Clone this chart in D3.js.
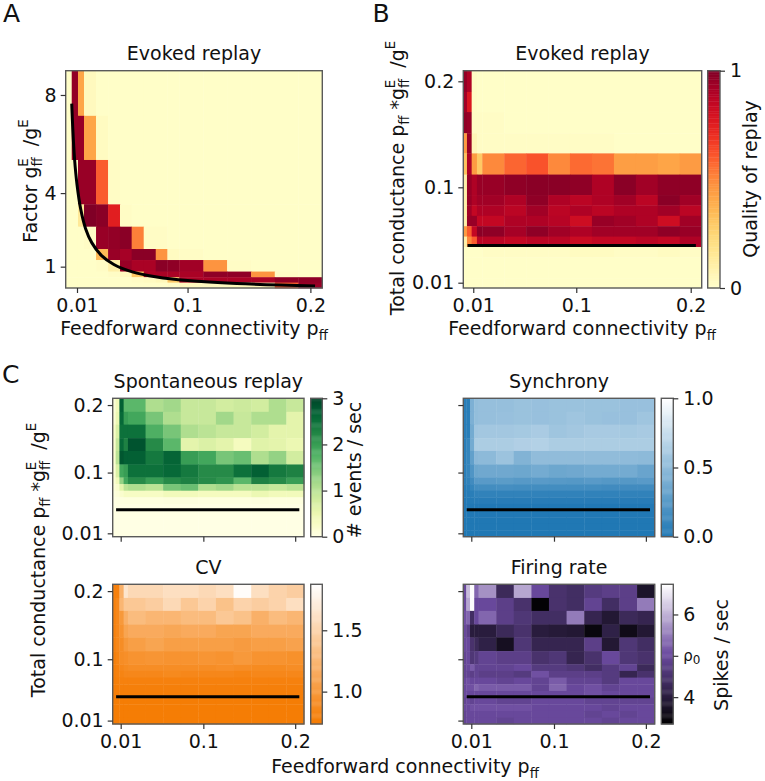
<!DOCTYPE html>
<html><head><meta charset="utf-8">
<script src="https://cdn.jsdelivr.net/npm/d3@7/dist/d3.min.js"></script>
<style>html,body{margin:0;padding:0;background:#fff}svg{display:block}text{font-family:"DejaVu Sans";fill:#111;white-space:pre}</style>
</head><body><svg id="c" width="765" height="781"></svg>
<script>
// ---------- grid edges ----------
const factorP = [.0008,.0057,.0108,.0157,.0255,.0353,.045,.0545,.0643,.0741,.0836,.0933,.1129,.1322,.1517,.171,.1902,.2097];
const factorG = [8.99,7.15,5.35,3.54,2.63,1.72,1.27,.8,.57,.35,.13];
const totalP = [.0013,.0045,.0086,.0132,.0179,.0371,.0562,.0754,.0945,.1137,.1329,.1521,.1712,.1904,.2096];
const totalC = [.21,.19,.171,.151,.132,.112,.0927,.0829,.0731,.0633,.0535,.0437,.0339,.0241,.0143,.005];
// ---------- A ----------
const replayFactor = [
[.01,.96,.42,.04,.01,.01,.01,.01,.01,.01,.01,.01,.01,.01,.01,.01,.01],
[.01,.95,.95,.42,.03,.01,.01,.01,.01,.01,.01,.01,.01,.01,.01,.01,.01],
[.01,.01,.95,.95,.6,.02,.01,.01,.01,.01,.01,.01,.01,.01,.01,.01,.01],
[.01,.01,.15,1,.98,.75,.02,.01,.01,.01,.01,.01,.01,.01,.01,.01,.01],
[.01,.01,.01,.02,.95,.96,.98,.52,.02,.02,.01,.01,.01,.01,.01,.01,.01],
[.01,.01,.01,.01,.35,.95,.92,.98,.98,.47,.03,.02,.01,.01,.01,.01,.01],
[.01,.01,.01,.01,.02,.1,.95,.91,.91,.98,.97,.93,.47,.02,.01,.01,.01],
[.01,.01,.01,.01,.01,.02,.04,.3,.9,.91,.91,.91,.97,.97,.47,.02,.01],
[.01,.01,.01,.01,.01,.01,.01,.02,.03,.05,.3,.91,.91,.91,.91,.97,.97],
[.01,.01,.01,.01,.01,.01,.01,.01,.01,.01,.02,.04,.04,.05,.06,.6,.95]];
const curveP = [.0057,.0065,.008,.01,.013,.017,.022,.03,.04,.055,.075,.1,.14,.2038];
const curveG = [7.65,6.7,5.4,4.35,3.35,2.55,1.98,1.45,1.09,.79,.58,.435,.31,.213];
// ---------- B ----------
const replayTotal = [
[.96,.9,.02,.01,.01,.01,.01,.01,.01,.01,.01,.01,.01,.01],
[.93,.78,.02,.01,.01,.01,.01,.01,.01,.01,.01,.01,.01,.01],
[.97,.95,.02,.02,.02,.01,.01,.01,.01,.01,.01,.01,.01,.01],
[.45,.95,.06,.02,.02,.02,.02,.02,.02,.02,.01,.01,.01,.01],
[.32,.9,.45,.3,.5,.58,.62,.5,.57,.55,.44,.44,.42,.45],
[.1,.95,.9,.95,.95,.97,.98,.98,.97,.9,.98,.93,.97,.97],
[.1,.95,.9,.93,.93,.9,.97,.9,.87,.9,.93,.87,.98,.93],
[.1,.93,.85,.9,.9,.87,.93,.87,.9,.87,.9,.9,.93,.87],
[.1,.95,.95,.85,.85,.9,.9,.88,.82,.95,.93,.9,.82,.93],
[.45,.6,.85,.98,.97,.92,.97,.93,.9,.93,.93,.93,.97,.95],
[.1,.5,.6,.87,.87,.85,.87,.87,.83,.85,.85,.87,.85,.9],
[.01,.01,.01,.01,.02,.02,.02,.02,.03,.03,.02,.02,.03,.02],
[.01,.01,.01,.01,.01,.01,.01,.01,.01,.01,.01,.01,.01,.01],
[.01,.01,.01,.01,.01,.01,.01,.01,.01,.01,.01,.01,.01,.01],
[.01,.01,.01,.01,.01,.01,.01,.01,.01,.01,.01,.01,.01,.01]];
// ---------- C ----------
const spontaneous = [
[.12,.4,2.7,1.7,1.7,1.1,1.2,.9,.9,.8,.85,.8,1.1,.9],
[.15,.5,2.6,2.0,1.9,1.5,1.1,.9,.9,1.2,.9,1.1,1.1,.6],
[.25,.7,2.5,2.5,2.5,1.8,1.5,1.1,1.0,.9,.9,.8,.6,.6],
[.2,.9,2.6,2.3,2.85,2.2,1.7,.6,.7,.6,.35,.65,.6,.5],
[.2,1.0,2.8,2.7,2.7,2.4,2.65,2.0,1.9,1.5,1.6,1.1,1.3,.8],
[.15,.7,1.9,2.0,2.5,2.5,2.6,2.4,2.2,2.2,2.5,2.7,2.4,2.3],
[.15,.4,1.3,1.9,2.2,2.0,2.2,2.3,2.2,2.1,1.7,2.3,2.2,2.0],
[.1,.2,.6,1.0,1.1,1.0,1.5,1.6,1.1,1.2,1.0,1.0,.9,1.0],
[.05,.1,.2,.3,.3,.3,.4,.4,.35,.35,.35,.5,.4,.4],
[.02,.03,.05,.06,.06,.06,.07,.07,.06,.06,.06,.07,.06,.06],
[.01,.02,.02,.02,.02,.02,.02,.02,.02,.02,.02,.02,.02,.02],
[.01,.01,.01,.01,.01,.01,.01,.01,.01,.01,.01,.01,.01,.01],
[.01,.01,.01,.01,.01,.01,.01,.01,.01,.01,.01,.01,.01,.01],
[.01,.01,.01,.01,.01,.01,.01,.01,.01,.01,.01,.01,.01,.01],
[.01,.01,.01,.01,.01,.01,.01,.01,.01,.01,.01,.01,.01,.01]];
const synchrony = [
[.05,.05,.42,.52,.53,.53,.55,.54,.55,.55,.55,.55,.54,.54],
[.05,.05,.42,.52,.53,.54,.55,.54,.55,.57,.55,.54,.54,.57],
[.05,.05,.38,.58,.59,.59,.6,.62,.57,.59,.61,.61,.6,.61],
[.05,.1,.38,.63,.63,.63,.65,.66,.63,.63,.63,.63,.63,.63],
[.05,.1,.3,.48,.49,.56,.44,.51,.51,.51,.51,.51,.5,.49],
[.05,.1,.22,.35,.36,.36,.35,.38,.35,.36,.38,.38,.38,.33],
[.05,.08,.15,.26,.26,.27,.25,.26,.25,.24,.26,.24,.24,.26],
[.03,.05,.1,.16,.16,.17,.16,.16,.16,.16,.16,.15,.15,.15],
[.02,.03,.05,.08,.08,.08,.08,.08,.08,.08,.08,.08,.08,.08],
[.01,.02,.03,.04,.04,.04,.04,.04,.04,.04,.04,.04,.04,.04],
[.01,.01,.01,.01,.01,.01,.01,.01,.01,.01,.01,.01,.01,.01],
[.01,.01,.01,.01,.01,.01,.01,.01,.01,.01,.01,.01,.01,.01],
[.005,.005,.005,.005,.005,.005,.005,.005,.005,.005,.005,.005,.005,.005],
[.005,.005,.005,.005,.005,.005,.005,.005,.005,.005,.005,.005,.005,.005],
[.005,.005,.005,.005,.005,.005,.005,.005,.005,.005,.005,.005,.005,.005]];
const cvValues = [
[.8,.8,1.2,1.65,1.55,1.55,1.6,1.6,1.55,1.6,1.85,1.6,1.5,1.45],
[.8,.85,1.25,1.4,1.4,1.45,1.55,1.4,1.5,1.35,1.5,1.45,1.5,1.6],
[.8,.85,1.0,1.2,1.3,1.25,1.25,1.3,1.3,1.4,1.35,1.2,1.3,1.25],
[.8,.85,.95,1.1,1.15,1.15,1.12,1.15,1.15,1.1,1.1,1.15,1.15,1.15],
[.8,.85,.9,1.0,1.05,1.1,1.05,1.05,1.05,1.05,1.02,1.05,1.05,1.08],
[.78,.82,.9,.92,.95,.97,.95,.95,.97,.95,1.0,.95,.95,.93],
[.78,.8,.85,.88,.9,.9,.9,.9,.9,.92,.9,.88,.88,.9],
[.78,.8,.82,.85,.85,.85,.87,.85,.85,.85,.83,.85,.85,.85],
[.77,.78,.8,.8,.8,.8,.8,.8,.8,.8,.8,.8,.8,.8],
[.77,.77,.78,.78,.78,.78,.78,.78,.78,.78,.78,.78,.78,.78],
[.77,.77,.77,.77,.77,.77,.77,.77,.77,.77,.77,.77,.77,.77],
[.76,.76,.76,.76,.76,.76,.76,.76,.76,.76,.76,.76,.76,.76],
[.76,.76,.76,.76,.76,.76,.76,.76,.76,.76,.76,.76,.76,.76],
[.76,.76,.76,.76,.76,.76,.76,.76,.76,.76,.76,.76,.76,.76],
[.76,.76,.76,.76,.76,.76,.76,.76,.76,.76,.76,.76,.76,.76]];
const firingRate = [
[5.0,6.1,6.7,5.3,5.7,4.3,5.9,5.0,4.5,4.4,4.7,4.8,4.8,3.8],
[5.0,5.9,6.7,5.0,5.0,4.8,4.5,3.4,4.5,4.4,4.9,4.4,4.8,5.5],
[5.1,5.3,4.4,5.0,5.3,4.8,4.6,4.4,4.4,5.5,4.2,3.9,4.3,4.2],
[5.0,4.8,4.0,4.0,4.0,4.3,4.5,4.0,3.95,3.9,3.5,4.1,3.6,3.9],
[5.0,5.0,4.5,4.3,4.1,3.7,4.6,4.2,4.2,4.2,4.8,3.9,4.6,4.4],
[4.9,5.0,4.6,4.7,4.9,4.8,4.8,4.5,4.6,4.2,4.5,5.0,4.6,4.5],
[4.9,5.0,5.2,4.9,4.9,4.9,5.0,4.7,4.7,4.6,4.4,4.7,4.9,4.3],
[4.9,4.9,4.8,4.9,4.8,4.8,4.7,5.1,4.8,4.8,4.8,4.7,4.2,4.5],
[5.0,5.1,5.0,5.0,5.0,4.9,5.0,4.9,5.2,4.9,4.9,4.7,5.0,5.0],
[5.0,5.1,5.1,5.3,5.2,5.2,5.2,4.9,5.3,5.0,5.1,4.9,5.0,5.0],
[5.0,5.0,5.0,5.0,5.0,5.0,5.0,5.0,5.0,5.0,5.1,5.0,5.0,5.0],
[4.9,5.0,4.9,5.0,5.0,4.9,4.9,5.0,5.0,5.0,4.9,4.9,4.9,4.9],
[5.0,5.0,5.1,5.1,5.1,5.1,5.1,5.0,5.0,5.0,5.0,4.9,5.0,5.0],
[4.9,5.0,5.0,5.0,5.0,5.0,5.0,5.0,5.0,5.0,4.9,5.0,4.9,5.0],
[4.9,5.0,5.0,5.0,5.0,4.9,5.0,5.0,5.0,5.0,5.0,4.9,5.0,5.0]];
// ---------- lines and ticks ----------
const refP = [.005,.2045];
const refC = .045;
const xTicks = [.01,.1,.2];
const xTickLabels = ["0.01","0.1","0.2"];
const factorTicks = [8,4,1];
const totalTicks = [.2,.1,.01];
const totalTickLabels = ["0.2","0.1","0.01"];

const svg = d3.select("#c");
const FS = 19, SP = "#5a5a5a";

function rich(sel, segs, size){
  const small = size*0.7, lift = size*0.45, drop = size*0.25;
  let off = 0;
  const add = (t, d, fs, dx) => {
    const ts = sel.append("tspan").text(t).attr("font-size", fs).attr("dy", d - off);
    if (dx) ts.attr("dx", dx);
    off = d;
  };
  segs.forEach(([t, k]) => {
    if (k === "sub") add(t, drop, small);
    else if (k === "sup") add(t, -lift, small);
    else if (k === "stack") { add("ff", drop, small); add("E", -lift, small, -small*0.7); }
    else add(t, 0, size);
  });
}
const pffLabel = [["Feedforward connectivity p",""],["ff","sub"]];
const totalLabel = [["Total conductance p",""],["ff","sub"],[" *g",""],["","stack"],["  /g",""],["E","sup"]];
const factorLabel = [["Factor g",""],["","stack"],["  /g",""],["E","sup"]];

function rotLabel(x, y, segs){
  const t = svg.append("text").attr("transform",`translate(${x},${y}) rotate(-90)`)
    .attr("text-anchor","middle").attr("font-size",FS);
  rich(t, segs, FS);
}
function hLabel(x, y, segs){
  const t = svg.append("text").attr("x",x).attr("y",y).attr("text-anchor","middle").attr("font-size",FS);
  rich(t, segs, FS);
}

function heat(o){
  const {left,right,top,bottom,xEdges,yEdges,values,color,title} = o;
  const x = d3.scaleLinear().domain([xEdges[0],xEdges[xEdges.length-1]]).range([left,right]);
  const y = d3.scaleLinear().domain([yEdges[yEdges.length-1],yEdges[0]]).range([bottom,top]);
  const g = svg.append("g");
  values.forEach((row,r)=>row.forEach((v,c)=>{
    g.append("rect").attr("x",x(xEdges[c])).attr("y",y(yEdges[r]))
     .attr("width",x(xEdges[c+1])-x(xEdges[c])+0.4).attr("height",y(yEdges[r+1])-y(yEdges[r])+0.4)
     .attr("fill",color(v));
  }));
  if (o.line) svg.append("path").attr("d",d3.line().x(d=>x(d[0])).y(d=>y(d[1])).curve(d3.curveCatmullRom)(o.line))
     .attr("fill","none").attr("stroke","#000").attr("stroke-width",3);
  svg.append("rect").attr("x",left).attr("y",top).attr("width",right-left).attr("height",bottom-top)
     .attr("fill","none").attr("stroke",SP).attr("stroke-width",1.4);
  const ax = svg.append("g").attr("transform",`translate(0,${bottom})`)
     .call(d3.axisBottom(x).tickValues(xTicks).tickFormat((d,i)=>o.showX?xTickLabels[i]:"").tickSize(5).tickPadding(5.5));
  const ay = svg.append("g").attr("transform",`translate(${left},0)`)
     .call(d3.axisLeft(y).tickValues(o.yTicks).tickFormat((d,i)=>o.yLabels?o.yLabels[i]:"").tickSize(5).tickPadding(4));
  [ax,ay].forEach(a=>{a.select(".domain").remove();a.selectAll("line").attr("stroke","#333").attr("stroke-width",1.2);
     a.selectAll("text").attr("font-size",FS).attr("font-family","DejaVu Sans").attr("fill","#111");});
  svg.append("text").attr("x",(left+right)/2).attr("y",top-10.7).attr("text-anchor","middle").attr("font-size",FS).text(title);
}

function colorbar(o){
  const {left,right,top,bottom,domain,color,ticks,labels} = o;
  const y = d3.scaleLinear().domain(domain).range([bottom,top]);
  const steps = d3.range(0,128).map(i=>domain[0]+(domain[1]-domain[0])*i/128);
  const dv = (domain[1]-domain[0])/128;
  svg.append("g").selectAll("rect").data(steps).join("rect")
    .attr("x",left).attr("width",right-left).attr("y",d=>y(d+dv)).attr("height",d=>y(d)-y(d+dv)+0.4)
    .attr("fill",d=>color(d+dv/2));
  svg.append("rect").attr("x",left).attr("y",top).attr("width",right-left).attr("height",bottom-top)
    .attr("fill","none").attr("stroke",SP).attr("stroke-width",1.4);
  const a = svg.append("g").attr("transform",`translate(${right},0)`)
    .call(d3.axisRight(y).tickValues(ticks).tickFormat((d,i)=>labels[i]).tickSize(5).tickPadding(5));
  a.select(".domain").remove();
  a.selectAll("line").attr("stroke","#333").attr("stroke-width",1.2);
  a.selectAll("text").attr("font-size",FS).attr("font-family","DejaVu Sans").attr("fill","#111");
  if (o.rho) a.selectAll("text").filter((d,i)=>labels[i]==="ρ").each(function(){
     const t=d3.select(this); t.text("ρ").attr("font-size",15);
     t.append("tspan").text("0").attr("font-size",12).attr("dy",3);
  });
}

const ylorrd = d3.scaleSequential(d3.interpolateYlOrRd).domain([0,1]);
const ylgn = d3.scaleSequential(d3.interpolateYlGn).domain([0,3]);
const blues = d3.scaleLinear().domain([0,1]).range(["#1f77b4","#ffffff"]);
const orange = d3.scaleLinear().domain([.736,1.875]).range(["#f57a00","#ffffff"]);
const purple = d3.scaleLinear().domain([3.35,5.04,6.73]).range(["#000000","#6b4a9f","#ffffff"]);

const lineAt = refP.map(p=>[p,refC]);
const curve = curveP.map((p,i)=>[p,curveG[i]]);

heat({left:65.7,right:322.3,top:70.7,bottom:288,xEdges:factorP,yEdges:factorG,values:replayFactor,color:ylorrd,title:"Evoked replay",line:curve,yTicks:factorTicks,yLabels:factorTicks.map(String),showX:true});
heat({left:463.3,right:701.7,top:70.7,bottom:288,xEdges:totalP,yEdges:totalC,values:replayTotal,color:ylorrd,title:"Evoked replay",line:lineAt,yTicks:totalTicks,yLabels:totalTickLabels,showX:true});
colorbar({left:707.7,right:720,top:70.7,bottom:288,domain:[0,1],color:ylorrd,ticks:[0,1],labels:["0","1"]});

const C1 = {top:398.3,bottom:536.7}, C2 = {top:584.3,bottom:724};
const L = {left:112.7,right:304}, R = {left:463.3,right:654.7};
heat({...L,...C1,xEdges:totalP,yEdges:totalC,values:spontaneous,color:ylgn,title:"Spontaneous replay",line:lineAt,yTicks:totalTicks,yLabels:totalTickLabels,showX:false});
colorbar({left:310.7,right:322.3,...C1,domain:[0,3],color:ylgn,ticks:[0,1,2,3],labels:["0","1","2","3"]});
heat({...R,...C1,xEdges:totalP,yEdges:totalC,values:synchrony,color:blues,title:"Synchrony",line:lineAt,yTicks:totalTicks,showX:false});
colorbar({left:661.3,right:673.3,...C1,domain:[0,1],color:blues,ticks:[0,.5,1],labels:["0.0","0.5","1.0"]});
heat({...L,...C2,xEdges:totalP,yEdges:totalC,values:cvValues,color:orange,title:"CV",line:lineAt,yTicks:totalTicks,yLabels:totalTickLabels,showX:true});
colorbar({left:310.7,right:322.3,...C2,domain:[.736,1.875],color:orange,ticks:[1,1.5],labels:["1.0","1.5"]});
heat({...R,...C2,xEdges:totalP,yEdges:totalC,values:firingRate,color:purple,title:"Firing rate",line:lineAt,yTicks:totalTicks,showX:true});
colorbar({left:661.3,right:673.3,...C2,domain:[3.35,6.73],color:purple,ticks:[4,5,6],labels:["4","ρ","6"],rho:true});

hLabel(194,335,pffLabel);
hLabel(582,335,pffLabel);
hLabel(405,773,pffLabel);
rotLabel(37,181,factorLabel);
rotLabel(404,178,totalLabel);
rotLabel(45,560,totalLabel);
svg.append("text").attr("transform","translate(757,179) rotate(-90)").attr("text-anchor","middle").attr("font-size",FS).text("Quality of replay");
svg.append("text").attr("transform","translate(361,470) rotate(-90)").attr("text-anchor","middle").attr("font-size",FS).text("# events / sec");
svg.append("text").attr("transform","translate(728,655) rotate(-90)").attr("text-anchor","middle").attr("font-size",FS).text("Spikes / sec");

[["A",3,22],["B",372.5,22],["C",2,383]].forEach(([t,x,y])=>svg.append("text").attr("x",x).attr("y",y).attr("font-size",25).text(t));
</script></body></html>
